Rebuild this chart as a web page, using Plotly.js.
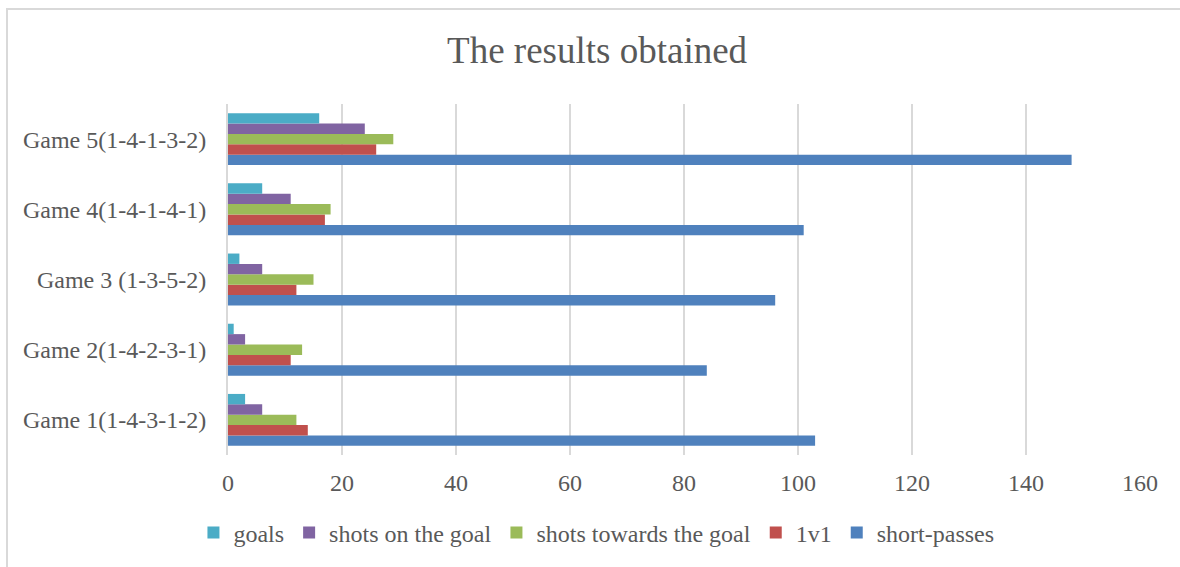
<!DOCTYPE html>
<html>
<head>
<meta charset="utf-8">
<script src="https://cdn.plot.ly/plotly-3.0.1.min.js"></script>
<style>
  html, body { margin: 0; padding: 0; background: #fff; overflow: hidden; }
  #frame { position: absolute; left: 6px; top: 8px; width: 1300px; height: 700px;
           border-left: 2px solid #d9d9d9; border-top: 2px solid #d9d9d9; }
  #chart { position: absolute; left: 0; top: 0; width: 1180px; height: 567px; }
</style>
</head>
<body>
<div id="frame"></div>
<div id="chart"></div>
<script>
const categories = ["Game 1(1-4-3-1-2)", "Game 2(1-4-2-3-1)", "Game 3 (1-3-5-2)", "Game 4(1-4-1-4-1)", "Game 5(1-4-1-3-2)"];
const goals = [3, 1, 2, 6, 16];
const shotsOnGoal = [6, 3, 6, 11, 24];
const shotsTowardsGoal = [12, 13, 15, 18, 29];
const oneVOne = [14, 11, 12, 17, 26];
const shortPasses = [103, 84, 96, 101, 148];
const xTicks = [0, 20, 40, 60, 80, 100, 120, 140, 160];

const seriesNames = ["short-passes", "1v1", "shots towards the goal", "shots on the goal", "goals"];
const seriesValues = [shortPasses, oneVOne, shotsTowardsGoal, shotsOnGoal, goals];
const seriesColors = ["#4F81BD", "#C0504D", "#9BBB59", "#8064A2", "#4BACC6"];

const font = { family: "Liberation Serif, Times New Roman, serif", color: "#595959" };

const traces = seriesNames.map((name, i) => ({
  type: "bar",
  orientation: "h",
  name: name,
  y: categories,
  x: seriesValues[i],
  marker: { color: seriesColors[i] },
  hoverinfo: "x+name"
}));

const layout = {
  width: 1180,
  height: 567,
  paper_bgcolor: "rgba(0,0,0,0)",
  plot_bgcolor: "rgba(0,0,0,0)",
  margin: { l: 228, r: 40, t: 104, b: 110, pad: 0 },
  barmode: "group",
  bargap: 0.26,
  bargroupgap: 0,
  title: {
    text: "The results obtained",
    font: { family: font.family, color: font.color, size: 37 },
    x: 0.506, xanchor: "center",
    y: 0.912, yanchor: "middle"
  },
  xaxis: {
    range: [0, 160],
    tickvals: xTicks,
    ticktext: xTicks.map(String),
    showgrid: true,
    gridcolor: "#d9d9d9",
    gridwidth: 2,
    zeroline: false,
    showline: false,
    ticks: "",
    ticklabelstandoff: 11,
    tickfont: { family: font.family, color: font.color, size: 24 },
    fixedrange: true
  },
  yaxis: {
    type: "category",
    categoryorder: "array",
    categoryarray: categories,
    showgrid: false,
    zeroline: false,
    showline: true,
    linecolor: "#d9d9d9",
    linewidth: 2,
    ticks: "",
    ticklabelstandoff: 15,
    tickfont: { family: font.family, color: font.color, size: 24 },
    fixedrange: true
  },
  showlegend: true,
  legend: {
    orientation: "h",
    traceorder: "reversed",
    x: 0.404, xanchor: "center",
    y: -0.222, yanchor: "middle",
    font: { family: font.family, color: font.color, size: 24 },
    itemwidth: 30,
    bgcolor: "rgba(0,0,0,0)"
  }
};

Plotly.newPlot("chart", traces, layout, { displayModeBar: false, staticPlot: true });
</script>
</body>
</html>
